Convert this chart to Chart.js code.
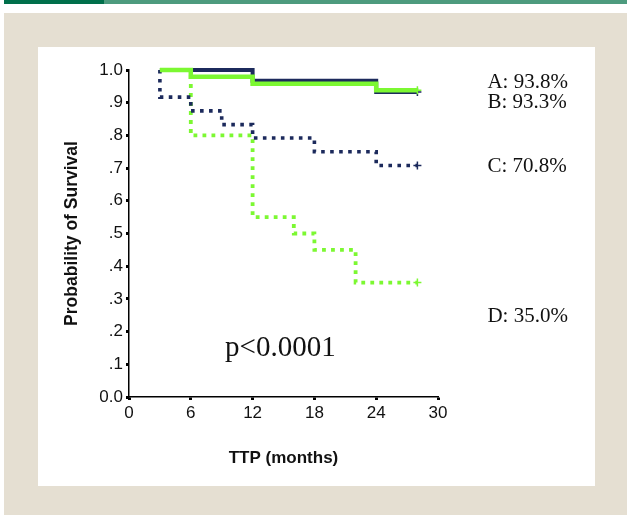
<!DOCTYPE html>
<html>
<head>
<meta charset="utf-8">
<script src="https://cdn.jsdelivr.net/npm/chart.js@4/dist/chart.umd.min.js"></script>
<style>
  html, body { margin: 0; padding: 0; background: #ffffff; width: 627px; height: 515px; overflow: hidden; }
  #barDark { position: absolute; left: 4px; top: 0; width: 100px; height: 4px; background: #006f4b; }
  #barLight { position: absolute; left: 104px; top: 0; width: 523px; height: 4px; background: #4d9b7e; }
  #beige { position: absolute; left: 4px; top: 13px; width: 623px; height: 502px; background: #e5dfd2; }
  #panel { position: absolute; left: 38px; top: 47px; width: 557px; height: 439px; background: #ffffff; }
  canvas { display: block; }
</style>
</head>
<body>
<div id="barDark"></div>
<div id="barLight"></div>
<div id="beige"></div>
<div id="panel"><canvas id="c" width="557" height="439"></canvas></div>
<script>
// ---- data ----
const timeA = [3, 6, 12, 24, 28];
const survA = [1.0, 0.979, 0.958, 0.938, 0.938];
const timeB = [3, 12, 24, 28];
const survB = [1.0, 0.967, 0.933, 0.933];
const timeC = [3, 3, 6, 9, 12, 18, 24, 28];
const survC = [1.0, 0.917, 0.875, 0.833, 0.792, 0.75, 0.708, 0.708];
const timeD = [3, 6, 12, 16, 18, 22, 28];
const survD = [1.0, 0.80, 0.55, 0.50, 0.45, 0.35, 0.35];

const xTicks = [0, 6, 12, 18, 24, 30];
const yTickLabels = ['0.0', '.1', '.2', '.3', '.4', '.5', '.6', '.7', '.8', '.9', '1.0'];
const seriesLabels = ['A: 93.8%', 'B: 93.3%', 'C: 70.8%', 'D: 35.0%'];
const pValueText = 'p<0.0001';

const NAVY = '#1c2a5c';
const GREEN = '#7cf832';

function pts(t, s) { return t.map((x, i) => ({ x: x, y: s[i] })); }
function endMark(n) { return Array.from({ length: n }, (_, i) => (i === n - 1 ? 4 : 0)); }

const textPlugin = {
  id: 'annot',
  afterDatasetsDraw(chart) {
    const { ctx, scales: { x, y } } = chart;
    ctx.save();
    ctx.fillStyle = '#111';
    ctx.textBaseline = 'middle';
    ctx.textAlign = 'left';
    ctx.font = '21px "Liberation Serif", "Times New Roman", serif';
    const labY = [0.963, 0.902, 0.706, 0.245];
    seriesLabels.forEach((t, i) => {
      ctx.fillText(t, x.getPixelForValue(34.8), y.getPixelForValue(labY[i]));
    });
    ctx.font = '29px "Liberation Serif", "Times New Roman", serif';
    ctx.textAlign = 'center';
    ctx.fillText(pValueText, x.getPixelForValue(14.7), y.getPixelForValue(0.15));
    ctx.restore();
  }
};

const common = { stepped: 'before', fill: false, clip: 8, pointStyle: 'cross', pointBorderWidth: 1.5, pointHoverRadius: 0 };

new Chart(document.getElementById('c'), {
  type: 'line',
  data: {
    datasets: [
      Object.assign({}, common, { label: 'D', data: pts(timeD, survD), borderColor: GREEN, pointBorderColor: GREEN,
        borderWidth: 3.8, borderDash: [3.8, 5.2], borderCapStyle: 'butt', pointRadius: endMark(timeD.length), order: 4 }),
      Object.assign({}, common, { label: 'C', data: pts(timeC, survC), borderColor: NAVY, pointBorderColor: NAVY,
        borderWidth: 3.6, borderDash: [3.6, 5.4], borderCapStyle: 'butt', pointRadius: endMark(timeC.length), order: 3 }),
      Object.assign({}, common, { label: 'B', data: pts(timeB, survB), borderColor: NAVY, pointBorderColor: NAVY,
        borderWidth: 4, pointRadius: endMark(timeB.length), order: 2 }),
      Object.assign({}, common, { label: 'A', data: pts(timeA, survA), borderColor: GREEN, pointBorderColor: GREEN,
        borderWidth: 4.5, pointRadius: endMark(timeA.length), order: 1 })
    ]
  },
  options: {
    responsive: false,
    animation: false,
    events: [],
    layout: { padding: { left: 0, top: 23, right: 157, bottom: 0 } },
    plugins: { legend: { display: false }, tooltip: { enabled: false } },
    scales: {
      x: {
        type: 'linear', min: 0, max: 30,
        afterBuildTicks(s) { s.ticks = xTicks.map(v => ({ value: v })); },
        afterFit(s) { s.height = 89; },
        ticks: { color: '#111', font: { family: '"Liberation Sans", Arial, sans-serif', size: 17 }, padding: 3, maxRotation: 0 },
        grid: { drawOnChartArea: false, drawTicks: true, tickLength: 3, tickWidth: 3, color: '#000' },
        border: { display: true, color: '#000', width: 1.5 },
        title: { display: true, text: 'TTP (months)', color: '#111',
          font: { family: '"Liberation Sans", Arial, sans-serif', size: 17, weight: 'bold' }, padding: { top: 0, bottom: 17 } }
      },
      y: {
        type: 'linear', min: 0, max: 1,
        afterBuildTicks(s) { s.ticks = yTickLabels.map((_, i) => ({ value: i / 10 })); },
        afterFit(s) { s.width = 91; },
        ticks: { color: '#111', font: { family: '"Liberation Sans", Arial, sans-serif', size: 17 }, padding: 3,
          callback: (v, i) => yTickLabels[i] },
        grid: { drawOnChartArea: false, drawTicks: true, tickLength: 3, tickWidth: 3, color: '#000' },
        border: { display: true, color: '#000', width: 1.5 },
        title: { display: true, text: 'Probability of Survival', color: '#111',
          font: { family: '"Liberation Sans", Arial, sans-serif', size: 17.5, weight: 'bold' }, padding: { top: 24, bottom: 0 } }
      }
    }
  },
  plugins: [textPlugin]
});
</script>
</body>
</html>
